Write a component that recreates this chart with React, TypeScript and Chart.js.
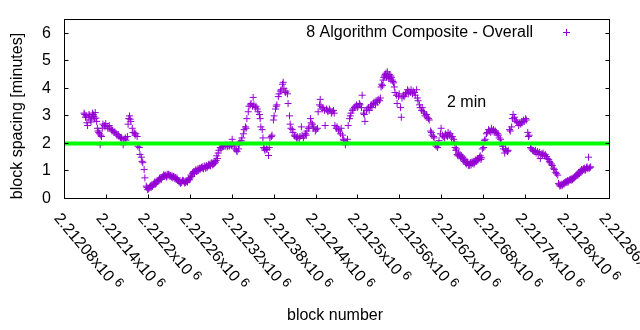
import React, { useEffect, useRef } from "react";
import { Chart, registerables } from "chart.js";

Chart.register(...registerables);

// ---- data ----
const blockNumbers: number[] = [
  2212108, 2212109, 2212110, 2212111, 2212112, 2212113, 2212114, 2212115, 2212116, 2212117,
  2212118, 2212119, 2212120, 2212121, 2212122, 2212123, 2212124, 2212125, 2212126, 2212127,
  2212128, 2212129, 2212130, 2212131, 2212132, 2212133, 2212134, 2212135, 2212137, 2212138,
  2212139, 2212141, 2212142, 2212144, 2212145, 2212147, 2212148, 2212149, 2212151, 2212152,
  2212154, 2212155, 2212157, 2212158, 2212160, 2212161, 2212162, 2212164, 2212165, 2212167,
  2212168, 2212170, 2212171, 2212172, 2212173, 2212174, 2212175, 2212177, 2212178, 2212180,
  2212181, 2212182, 2212184, 2212185, 2212187, 2212188, 2212190, 2212191, 2212192, 2212194,
  2212195, 2212197, 2212198, 2212200, 2212201, 2212202, 2212204, 2212205, 2212207, 2212208,
  2212210, 2212211, 2212213, 2212214, 2212215, 2212217, 2212218, 2212220, 2212221, 2212223,
  2212224, 2212225, 2212227, 2212228, 2212230, 2212231, 2212233, 2212234, 2212235, 2212237,
  2212238, 2212240, 2212241, 2212243, 2212244, 2212245, 2212247, 2212248, 2212250, 2212251,
  2212253, 2212254, 2212255, 2212257, 2212258, 2212260, 2212261, 2212263, 2212264, 2212266,
  2212267, 2212268, 2212270, 2212271, 2212273, 2212274, 2212276, 2212277, 2212278, 2212280,
  2212281, 2212283, 2212284, 2212286, 2212287, 2212288, 2212290, 2212291, 2212293, 2212294,
  2212296, 2212297, 2212298, 2212300, 2212301, 2212303, 2212304, 2212306, 2212307, 2212308,
  2212310, 2212311, 2212313, 2212314, 2212316, 2212317, 2212319, 2212320, 2212321, 2212323,
  2212324, 2212326, 2212327, 2212329, 2212330, 2212331, 2212333, 2212334, 2212336, 2212337,
  2212339, 2212340, 2212341, 2212343, 2212344, 2212346, 2212347, 2212349, 2212350, 2212351,
  2212353, 2212354, 2212356, 2212357, 2212359, 2212360, 2212361, 2212363, 2212364, 2212365,
  2212366, 2212367, 2212369, 2212370, 2212372, 2212373, 2212374, 2212376, 2212377, 2212379,
  2212380, 2212382, 2212383, 2212384, 2212386, 2212387, 2212389, 2212390, 2212392, 2212393,
  2212394, 2212396, 2212397, 2212399, 2212400, 2212402, 2212403, 2212404, 2212406, 2212407,
  2212409, 2212410, 2212412, 2212413, 2212414, 2212416, 2212417, 2212419, 2212420, 2212422,
  2212423, 2212425, 2212426, 2212427, 2212429, 2212430, 2212432, 2212433, 2212435, 2212436,
  2212437, 2212439, 2212440, 2212442, 2212443, 2212445, 2212446, 2212447, 2212449, 2212450,
  2212452, 2212453, 2212455, 2212456, 2212457, 2212459, 2212460, 2212462, 2212463, 2212465,
  2212466, 2212467, 2212469, 2212470, 2212472, 2212473, 2212475, 2212476, 2212478, 2212479,
  2212480, 2212482, 2212483, 2212485, 2212486, 2212488, 2212489, 2212490, 2212492, 2212493,
  2212495, 2212496, 2212498, 2212499, 2212500, 2212502, 2212503, 2212505, 2212506, 2212508,
  2212509, 2212510, 2212512, 2212513, 2212515, 2212516, 2212518, 2212519, 2212520, 2212522,
  2212523, 2212525, 2212526, 2212528, 2212529, 2212531, 2212532, 2212533, 2212535, 2212536,
  2212538, 2212539, 2212541, 2212542, 2212543, 2212545, 2212546, 2212548, 2212549, 2212551,
  2212552, 2212553, 2212555, 2212556, 2212558, 2212559, 2212561, 2212562, 2212563, 2212565,
  2212566, 2212568, 2212569, 2212571, 2212572, 2212573, 2212575, 2212576, 2212578, 2212579,
  2212581, 2212582, 2212584, 2212585, 2212586, 2212588, 2212589, 2212591, 2212592, 2212594,
  2212595, 2212596, 2212598, 2212599, 2212601, 2212602, 2212604, 2212605, 2212606, 2212608,
  2212609, 2212611, 2212612, 2212614, 2212615, 2212616, 2212618, 2212619, 2212621, 2212622,
  2212624, 2212625, 2212627, 2212628, 2212629, 2212631, 2212632, 2212634, 2212635, 2212637,
  2212638, 2212639, 2212641, 2212642, 2212644, 2212645, 2212647, 2212648, 2212649, 2212651,
  2212652, 2212654, 2212655, 2212657, 2212658, 2212659, 2212661, 2212662, 2212664, 2212665,
  2212667, 2212668, 2212669, 2212671, 2212672, 2212674, 2212675, 2212677, 2212678, 2212680,
  2212681, 2212682, 2212684, 2212685, 2212687, 2212688, 2212690, 2212691, 2212692, 2212694,
  2212695, 2212697, 2212698, 2212700, 2212701, 2212702, 2212704, 2212705, 2212707, 2212708,
  2212710, 2212711, 2212712, 2212714, 2212715, 2212717, 2212718, 2212720, 2212721, 2212722,
  2212724, 2212725, 2212727, 2212728, 2212730, 2212731, 2212733, 2212734, 2212735, 2212737,
  2212738, 2212740, 2212741, 2212743, 2212744, 2212745, 2212747, 2212748, 2212750, 2212751,
  2212753, 2212754, 2212755, 2212757, 2212758, 2212760, 2212761, 2212763, 2212764, 2212765,
  2212767, 2212768, 2212770, 2212771, 2212773, 2212774, 2212775, 2212777, 2212778, 2212780,
  2212781, 2212783, 2212784, 2212786, 2212787, 2212788, 2212790, 2212791, 2212793, 2212794,
  2212796, 2212797, 2212798, 2212800, 2212801, 2212803, 2212804, 2212806, 2212807, 2212808,
  2212810, 2212811, 2212813, 2212814, 2212816, 2212817, 2212818, 2212820, 2212821, 2212823,
  2212824, 2212826, 2212827, 2212828, 2212830, 2212831, 2212833,
  // blocks in between (spread of the band)
  2212199, 2212203, 2212206, 2212209, 2212212, 2212216, 2212219, 2212222, 2212226, 2212229,
  2212232, 2212236, 2212239, 2212242, 2212246, 2212249, 2212252, 2212256, 2212259, 2212262,
  2212265, 2212269, 2212272, 2212275, 2212279, 2212282, 2212285, 2212289, 2212292, 2212295,
  2212299, 2212534, 2212537, 2212540, 2212544, 2212547, 2212550, 2212640, 2212643, 2212646,
  2212650, 2212653, 2212656, 2212660, 2212663, 2212666, 2212670, 2212673, 2212676, 2212789,
  2212792, 2212795, 2212799, 2212802, 2212805, 2212809, 2212812, 2212815, 2212819, 2212822,
  2212825, 2212829, 2212832,
];

const spacingMinutes: number[] = [
  3.10, 3.05, 2.95, 3.00, 2.75, 2.65, 2.95, 3.05, 3.00, 2.85,
  2.78, 2.95, 3.10, 3.05, 2.98, 2.90, 3.12, 2.92, 2.80, 2.55,
  2.45, 2.40, 2.35, 1.95, 2.30, 2.25, 2.55, 2.70, 2.65, 2.60,
  2.72, 2.62, 2.55, 2.65, 2.55, 2.50, 2.45, 2.48, 2.40, 2.42,
  2.35, 2.30, 2.32, 2.25, 2.20, 2.22, 2.18, 1.95, 2.15, 2.20,
  2.12, 2.25, 2.70, 2.90, 3.00, 2.88, 2.80, 2.55, 2.40, 2.38,
  2.30, 2.35, 2.25, 1.90, 1.85, 1.60, 1.50, 1.35, 1.30, 1.05,
  0.75, 0.45, 0.40, 0.35, 0.38, 0.42, 0.40, 0.48, 0.50, 0.55,
  0.52, 0.60, 0.62, 0.65, 0.68, 0.70, 0.75, 0.78, 0.80, 0.82,
  0.85, 0.83, 0.88, 0.82, 0.85, 0.80, 0.78, 0.82, 0.75, 0.78,
  0.72, 0.70, 0.75, 0.65, 0.60, 0.62, 0.58, 0.60, 0.65, 0.62,
  0.58, 0.65, 0.62, 0.68, 0.72, 0.75, 0.85, 0.90, 0.95, 0.92,
  1.00, 1.05, 1.00, 1.08, 1.10, 1.05, 1.12, 1.15, 1.10, 1.18,
  1.15, 1.20, 1.12, 1.22, 1.25, 1.20, 1.28, 1.30, 1.25, 1.35,
  1.32, 1.38, 1.55, 1.65, 1.75, 1.85, 1.80, 1.90, 1.88, 1.92,
  1.90, 1.95, 1.88, 1.92, 1.90, 1.95, 1.93, 2.15, 1.95, 1.90,
  1.80, 1.75, 1.70, 1.80, 1.95, 2.05, 2.10, 2.20, 2.35, 2.50,
  2.60, 2.55, 2.90, 3.15, 3.35, 3.40, 3.45, 3.35, 3.67, 3.40,
  3.30, 3.35, 3.25, 3.15, 3.05, 2.90, 2.60, 2.50, 2.20, 1.85,
  1.80, 1.75, 1.80, 1.78, 1.56, 1.85, 2.20, 2.25, 2.30, 2.85,
  3.00, 3.25, 3.35, 3.40, 3.70, 3.80, 3.90, 3.95, 4.15, 4.22,
  4.00, 3.85, 3.90, 3.80, 3.45, 3.00, 2.70, 2.55, 2.50, 2.40,
  2.30, 2.25, 2.20, 2.25, 2.20, 2.18, 2.25, 2.60, 2.30, 2.20,
  2.28, 2.35, 2.30, 2.45, 2.55, 2.60, 2.90, 2.75, 2.70, 2.55,
  2.60, 2.45, 2.50, 2.55, 3.15, 3.40, 3.60, 3.35, 3.25, 3.30,
  3.20, 2.65, 3.25, 3.20, 3.15, 3.25, 3.20, 3.10, 3.15, 3.20,
  3.10, 2.65, 2.55, 2.60, 2.50, 2.45, 2.35, 2.55, 2.30, 2.15,
  2.10, 1.95, 2.05, 2.15, 2.65, 2.90, 3.00, 3.10, 3.20, 3.25,
  3.30, 3.35, 3.40, 3.30, 3.35, 3.45, 3.40, 3.30, 3.75, 3.10,
  3.05, 2.80, 3.20, 3.25, 3.30, 3.20, 3.35, 3.40, 3.30, 3.45,
  3.50, 3.40, 3.55, 3.50, 3.60, 3.55, 3.65, 4.05, 4.10, 4.30,
  4.45, 4.50, 4.40, 4.60, 4.45, 4.50, 4.35, 4.40, 4.30, 4.20,
  4.05, 3.85, 3.75, 3.45, 3.70, 3.80, 3.30, 2.95, 3.65, 3.75,
  3.70, 3.80, 3.85, 3.95, 3.80, 3.90, 3.85, 3.95, 3.80, 3.90,
  3.85, 3.75, 3.95, 3.65, 3.55, 3.40, 3.30, 3.20, 3.30, 3.15,
  3.10, 3.00, 3.05, 2.95, 2.90, 2.85, 2.45, 2.40, 2.30, 2.25,
  2.20, 1.95, 1.90, 1.85, 1.95, 2.10, 2.35, 2.55, 2.30, 2.25,
  2.20, 2.35, 2.30, 2.25, 2.40, 2.30, 2.35, 2.20, 2.25, 2.15,
  2.05, 1.85, 1.80, 1.60, 1.65, 1.55, 1.50, 1.55, 1.45, 1.40,
  1.35, 1.30, 1.25, 1.30, 1.20, 1.25, 1.30, 1.22, 1.28, 1.35,
  1.30, 1.40, 1.35, 1.45, 1.40, 1.50, 1.55, 1.48, 1.80, 1.85,
  2.10, 2.15, 2.35, 2.40, 2.50, 2.45, 2.40, 2.55, 2.45, 2.50,
  2.40, 2.45, 2.38, 2.35, 2.30, 2.20, 2.15, 2.00, 1.90, 1.80,
  1.65, 1.80, 1.75, 1.70, 1.75, 2.50, 2.45, 2.60, 2.90, 3.05,
  2.95, 2.85, 2.80, 2.75, 2.65, 2.75, 2.70, 2.80, 2.75, 2.85,
  2.80, 2.90, 2.85, 2.40, 2.25, 2.30, 1.85, 1.80, 1.75, 1.72,
  1.70, 1.75, 1.65, 1.70, 1.60, 1.68, 1.45, 1.62, 1.58, 1.65,
  1.55, 1.60, 1.52, 1.45, 1.42, 1.35, 1.30, 1.25, 1.20, 1.10,
  1.05, 0.95, 0.90, 0.85, 0.55, 0.50, 0.48, 0.52, 0.50, 0.55,
  0.58, 0.60, 0.62, 0.65, 0.60, 0.68, 0.70, 0.72, 0.68, 0.75,
  0.78, 0.80, 0.85, 0.88, 0.95, 0.90, 1.00, 1.05, 1.00, 1.08,
  1.10, 1.05, 1.12, 1.15, 1.50, 1.10, 1.15,
  // blocks in between (spread of the band)
  0.32, 0.46, 0.44, 0.60, 0.56, 0.74, 0.70, 0.86, 0.78, 0.88,
  0.84, 0.80, 0.76, 0.68, 0.55, 0.66, 0.56, 0.60, 0.68, 0.80,
  0.98, 0.98, 1.02, 1.10, 1.08, 1.10, 1.16, 1.18, 1.22, 1.28,
  1.45, 4.15, 4.40, 4.55, 4.35, 4.45, 4.25, 1.75, 1.55, 1.60,
  1.50, 1.42, 1.35, 1.20, 1.32, 1.25, 1.38, 1.45, 1.42, 0.45,
  0.46, 0.52, 0.58, 0.65, 0.66, 0.72, 0.82, 0.85, 0.95, 1.05,
  1.02, 1.08, 1.12,
];

const targetMinutes = 2;
const xAxisMin = 2212080;
const xAxisMax = 2212860;
const xAxisStep = 60;
const yAxisMin = 0;
const yAxisMax = 6.5;
const yAxisStep = 1;
const seriesLabel = "8 Algorithm Composite - Overall";
const targetLabel = "2 min";
const xTitle = "block number";
const yTitle = "block spacing [minutes]";

const FONT = '"Liberation Sans", Arial, sans-serif';
const PURPLE = "#9400d3";
const GREEN = "#00ff00";
const LABEL_ANGLE = (50 * Math.PI) / 180;

function fmtTick(v: number): string {
  return parseFloat((v / 1e6).toFixed(5)).toString();
}

const gnuplotDecor = {
  id: "gnuplotDecor",
  afterDraw(chart: any) {
    const { ctx, chartArea: a } = chart;
    const xs = chart.scales.x;
    const ys = chart.scales.y;
    const T = 4;
    ctx.save();
    ctx.strokeStyle = "#000";
    ctx.lineWidth = 1;
    ctx.beginPath();
    for (const t of ys.ticks) {
      const py = Math.floor(ys.getPixelForValue(t.value)) + 0.5;
      ctx.moveTo(a.left, py);
      ctx.lineTo(a.left + T, py);
      ctx.moveTo(a.right, py);
      ctx.lineTo(a.right - T, py);
    }
    for (const t of xs.ticks) {
      const px = Math.floor(xs.getPixelForValue(t.value)) + 0.5;
      ctx.moveTo(px, a.bottom);
      ctx.lineTo(px, a.bottom - T);
    }
    ctx.stroke();
    ctx.strokeRect(a.left, a.top, a.right - a.left, a.bottom - a.top);

    ctx.fillStyle = "#000";
    ctx.font = `16px ${FONT}`;
    // y tick labels
    ctx.textAlign = "right";
    ctx.textBaseline = "middle";
    for (const t of ys.ticks) {
      ctx.fillText(String(t.value), a.left - 13.5, ys.getPixelForValue(t.value));
    }
    // x tick labels, rotated clockwise
    ctx.textAlign = "left";
    ctx.textBaseline = "alphabetic";
    for (const t of xs.ticks) {
      const px = xs.getPixelForValue(t.value);
      const main = fmtTick(t.value) + "x10";
      ctx.save();
      ctx.translate(px - 11, a.bottom + 20);
      ctx.rotate(LABEL_ANGLE);
      ctx.font = `16px ${FONT}`;
      ctx.fillText(main, 0, 0);
      const w = ctx.measureText(main).width;
      ctx.font = `13px ${FONT}`;
      ctx.fillText("6", w + 4, -5);
      ctx.restore();
    }
    ctx.font = `16px ${FONT}`;
    // axis titles
    ctx.textAlign = "center";
    ctx.textBaseline = "middle";
    ctx.fillText(xTitle, (a.left + a.right) / 2 - 2, 316);
    ctx.save();
    ctx.translate(17.5, 116);
    ctx.rotate(-Math.PI / 2);
    ctx.fillText(yTitle, 0, 0);
    ctx.restore();
    // key
    ctx.textAlign = "right";
    ctx.textBaseline = "alphabetic";
    ctx.fillText(seriesLabel, 533, 37);
    ctx.strokeStyle = PURPLE;
    ctx.beginPath();
    ctx.moveTo(563, 32.5);
    ctx.lineTo(570, 32.5);
    ctx.moveTo(566.5, 29);
    ctx.lineTo(566.5, 36);
    ctx.stroke();
    // label for the 2 minute line
    ctx.textAlign = "left";
    ctx.fillText(targetLabel, 447, 107);
    ctx.restore();
  },
};

export default function App() {
  const ref = useRef<HTMLCanvasElement | null>(null);
  useEffect(() => {
    if (!ref.current) return;
    const points = blockNumbers.map((b, i) => ({ x: b, y: spacingMinutes[i] }));
    const chart = new Chart(ref.current, {
      type: "scatter",
      data: {
        datasets: [
          {
            label: "2 min",
            data: [
              { x: xAxisMin, y: targetMinutes },
              { x: xAxisMax, y: targetMinutes },
            ],
            showLine: true,
            borderColor: GREEN,
            backgroundColor: GREEN,
            borderWidth: 4,
            pointRadius: 0,
            order: 0,
          },
          {
            label: seriesLabel,
            data: points,
            pointStyle: "cross",
            pointRadius: 3.5,
            pointBorderWidth: 1,
            pointBorderColor: PURPLE,
            pointBackgroundColor: PURPLE,
            borderColor: PURPLE,
            showLine: false,
            order: 1,
          },
        ],
      },
      options: {
        animation: false,
        responsive: false,
        events: [],
        layout: { padding: { top: 19.5, right: 30.5, left: 0, bottom: 0 } },
        plugins: { legend: { display: false }, tooltip: { enabled: false } },
        scales: {
          x: {
            type: "linear",
            min: xAxisMin,
            max: xAxisMax,
            ticks: { display: false, stepSize: xAxisStep },
            grid: { display: false },
            border: { display: false },
            afterFit: (s: any) => {
              s.height = 131.5;
            },
          },
          y: {
            type: "linear",
            min: yAxisMin,
            max: yAxisMax,
            ticks: { display: false, stepSize: yAxisStep, includeBounds: false },
            grid: { display: false },
            border: { display: false },
            afterFit: (s: any) => {
              s.width = 64.5;
            },
          },
        },
      },
      plugins: [gnuplotDecor],
    });
    return () => chart.destroy();
  }, []);
  return (
    <div style={{ position: "absolute", left: 0, top: 0, width: 640, height: 330, background: "#fff" }}>
      <canvas ref={ref} width={640} height={330} style={{ display: "block" }} />
    </div>
  );
}
